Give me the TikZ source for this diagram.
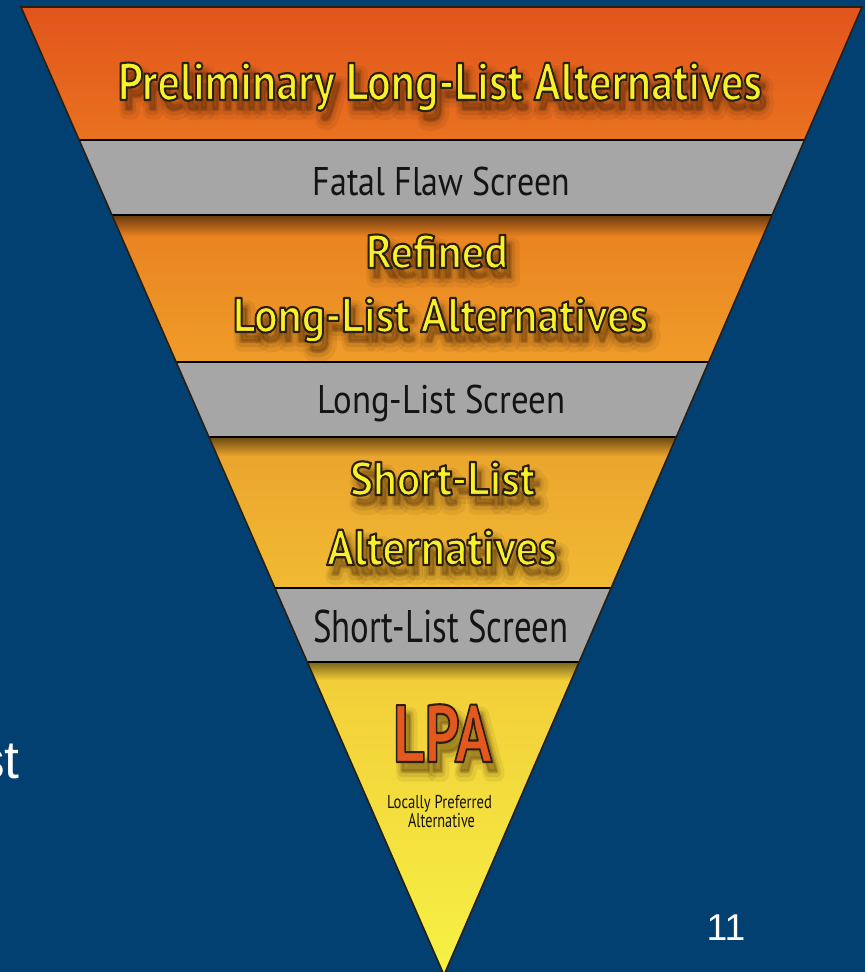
\documentclass[tikz,border=0pt]{standalone}
\usepackage{fontspec}
\usepackage{graphicx}
\setmainfont{PT Sans}
\newfontfamily\slidefont{Liberation Sans}

\definecolor{slidebg}{RGB}{1,64,112}
\definecolor{bandAtop}{RGB}{226,84,28}
\definecolor{bandAbot}{RGB}{233,114,31}
\definecolor{bandBtop}{RGB}{232,128,32}
\definecolor{bandBbot}{RGB}{240,156,41}
\definecolor{bandCtop}{RGB}{234,163,44}
\definecolor{bandCbot}{RGB}{241,186,51}
\definecolor{bandDtop}{RGB}{242,204,56}
\definecolor{bandDbot}{RGB}{246,242,68}
\definecolor{screengray}{RGB}{166,166,166}
\definecolor{labelyellow}{RGB}{250,240,40}
\definecolor{lpared}{RGB}{226,88,30}
\definecolor{rim}{RGB}{40,30,20}
\definecolor{shadowbrown}{RGB}{60,30,5}

% one unit of the drawing grid
\newdimen\pxu \pxu=0.75pt

% squeeze a label horizontally to a given width (in grid units)
\newcommand\fitw[2]{\resizebox{#1\pxu}{\height}{#2}}

% glyphs filled and then stroked: #1 stroke width (bp), #2 stroke rgb, #3 text
\newcommand\rimmed[3]{%
  \special{pdf:literal direct #2 RG #1 w 1 j 2 Tr}#3\special{pdf:literal direct 0 Tr}}

\tikzset{
  lbl/.style={inner sep=0pt, anchor=base},
  bandline/.style={line width=1.6pt, draw=black},
  funnel/.style={line width=1.2pt, draw=rim},
}

% raised label: soft drop shadow (three widening layers), dark rim, coloured face
% #1 name, #2 position, #3 font size, #4 width, #5 face colour, #6 text
\newcommand\raisedlabel[6]{%
  \node[lbl, text=shadowbrown, opacity=0.08, shift={(6,11)}] at #2
    {\fitw{#4}{\fontsize{#3}{#3}\selectfont\bfseries\rimmed{13}{0.24 0.12 0.02}{#6}}};
  \node[lbl, text=shadowbrown, opacity=0.11, shift={(5,10)}] at #2
    {\fitw{#4}{\fontsize{#3}{#3}\selectfont\bfseries\rimmed{7.5}{0.24 0.12 0.02}{#6}}};
  \node[lbl, text=shadowbrown, opacity=0.15, shift={(5,9)}] at #2
    {\fitw{#4}{\fontsize{#3}{#3}\selectfont\bfseries\rimmed{3}{0.24 0.12 0.02}{#6}}};
  \node[lbl, text=#5] (#1) at #2
    {\fitw{#4}{\fontsize{#3}{#3}\selectfont\bfseries\rimmed{1.6}{0.16 0.12 0.08}{#6}}};
}

% plain label on a grey screen band
% #1 name, #2 position, #3 font size, #4 width, #5 text
\newcommand\screenlabel[5]{%
  \node[lbl, text=black!92] (#1) at #2
    {\fitw{#4}{\fontsize{#3}{#3}\selectfont #5}};
}

\begin{document}
\begin{tikzpicture}[x=0.75pt,y=-0.75pt]
  \fill[slidebg] (0,0) rectangle (865,972);
  \useasboundingbox (0,0) rectangle (865,972);

  \coordinate (TL) at (21,7);
  \coordinate (TR) at (862,7);
  \coordinate (AP) at (444,975);

  \begin{scope}
    \clip (TL) -- (TR) -- (AP) -- cycle;
    % alternatives bands and screens
    \shade[top color=bandAtop, bottom color=bandAbot] (0,7) rectangle (865,140);
    \fill[screengray] (0,140) rectangle (865,215);
    \shade[top color=bandBtop, bottom color=bandBbot] (0,215) rectangle (865,362);
    \shade[top color=bandBtop!45!black, bottom color=bandBtop] (0,215) rectangle (865,236);
    \fill[screengray] (0,362) rectangle (865,437);
    \shade[top color=bandCtop, bottom color=bandCbot] (0,437) rectangle (865,588);
    \shade[top color=bandCtop!45!black, bottom color=bandCtop] (0,437) rectangle (865,456);
    \fill[screengray] (0,588) rectangle (865,662);
    \shade[top color=bandDtop, bottom color=bandDbot] (0,662) rectangle (865,975);
    \shade[top color=bandDtop!50!black, bottom color=bandDtop] (0,662) rectangle (865,680);
    % band separators
    \foreach \yy in {140,215,362,437,588,662}
      \draw[bandline] (0,\yy) -- (865,\yy);
  \end{scope}
  \draw[funnel] (TL) -- (TR) -- (AP) -- cycle;

  % slide text around the funnel
  \node[lbl, anchor=base east, text=white, font=\slidefont\fontsize{40pt}{40pt}\selectfont] (side) at (20,778) {st};
  \node[lbl, text=white, font=\slidefont\fontsize{28pt}{28pt}\selectfont] (pagenum) at (726,940) {11};

  % labels
  \screenlabel{fatal}{(441.5,195)}{30pt}{257}{Fatal Flaw Screen}
  \screenlabel{longscr}{(441.5,413)}{30pt}{248}{Long-List Screen}
  \screenlabel{shortscr}{(440.5,642)}{34.3pt}{255}{Short-List Screen}
  \screenlabel{locally}{(439.5,808)}{14pt}{105}{Locally Preferred}
  \screenlabel{altern}{(441.5,827)}{15pt}{67}{Alternative}
  \raisedlabel{prelim}{(440,100)}{39.6pt}{644}{labelyellow}{Preliminary Long-List Alternatives}
  \raisedlabel{refined}{(437,268)}{35.4pt}{142}{labelyellow}{Refined}
  \raisedlabel{longalt}{(440.5,332)}{36.4pt}{415}{labelyellow}{Long-List Alternatives}
  \raisedlabel{shortl}{(442.5,495)}{35.4pt}{185}{labelyellow}{Short-List}
  \raisedlabel{shortalt}{(442,565)}{37.5pt}{230}{labelyellow}{Alternatives}
  \raisedlabel{lpa}{(442.5,762)}{61pt}{99}{lpared}{LPA}
\end{tikzpicture}
\end{document}
